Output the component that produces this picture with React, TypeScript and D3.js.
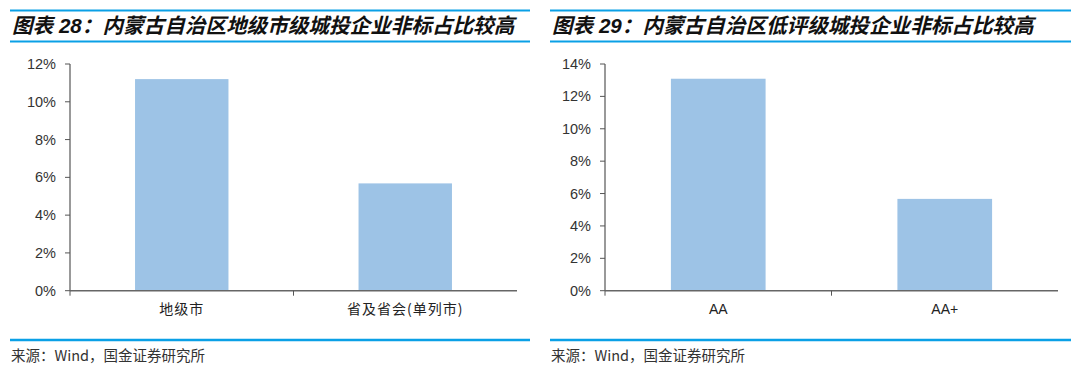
import React from "react";
import * as d3 from "d3";

const leftTitle = "图表 28：内蒙古自治区地级市级城投企业非标占比较高";
const leftCategories = ["地级市", "省及省会(单列市)"];
const leftValues = [0.112, 0.0568];
const leftTicks = [0, 0.02, 0.04, 0.06, 0.08, 0.1, 0.12];

const rightTitle = "图表 29：内蒙古自治区低评级城投企业非标占比较高";
const rightCategories = ["AA", "AA+"];
const rightValues = [0.1309, 0.0567];
const rightTicks = [0, 0.02, 0.04, 0.06, 0.08, 0.1, 0.12, 0.14];

const source = "来源：Wind，国金证券研究所";

const BLUE = "#0aa0e6";
const BAR = "#9dc3e6";

function Panel({ x0, x1, axisX, axisEnd, title, categories, values, ticks, cjkLabels }) {
  const top = 64;
  const bottom = 290.7;
  const y = d3.scaleLinear().domain([0, ticks[ticks.length - 1]]).range([bottom, top]);
  const xb = d3.scaleBand().domain(categories).range([axisX, axisEnd]).paddingInner(0).paddingOuter(0);
  const bw = xb.bandwidth() * 0.418;
  const fmt = d3.format(".0%");
  return (
    <g>
      <line x1={x0} x2={x1} y1={10.5} y2={10.5} stroke={BLUE} strokeWidth={2} />
      <text x={x0 + 2} y={33} fontFamily="'Liberation Sans', 'Noto Sans CJK SC', sans-serif" fontSize={20.6} fontWeight="bold" fontStyle="italic" fill="#111">
        {title}
      </text>
      <line x1={x0} x2={x1} y1={41.5} y2={41.5} stroke={BLUE} strokeWidth={2} />
      {values.map((v, i) => {
        const cx = xb(categories[i]) + xb.bandwidth() / 2;
        return (
          <rect key={i} x={cx - bw / 2} y={y(v)} width={bw} height={bottom - y(v)} fill={BAR} />
        );
      })}
      <line x1={axisX} x2={axisX} y1={top} y2={bottom} stroke="#555" strokeWidth={1.2} />
      {ticks.map((t, i) => (
        <g key={i}>
          <line x1={axisX - 5} x2={axisX} y1={y(t)} y2={y(t)} stroke="#555" strokeWidth={1} />
          <text x={axisX - 14} y={y(t)} dy="0.35em" textAnchor="end" fontFamily="'Liberation Sans', Arial, sans-serif" fontSize={14.5} fill="#333">
            {fmt(t)}
          </text>
        </g>
      ))}
      <line x1={axisX} x2={axisEnd} y1={bottom} y2={bottom} stroke="#666" strokeWidth={1.5} />
      {categories.map((c, i) => (
        <line key={i} x1={xb(c)} x2={xb(c)} y1={bottom} y2={bottom + 5} stroke="#555" strokeWidth={1} />
      ))}
      {categories.map((c, i) => (
        <text key={i} x={xb(c) + xb.bandwidth() / 2} y={314} textAnchor="middle"
          fontFamily={cjkLabels ? "'Noto Sans CJK SC', sans-serif" : "'Liberation Sans', Arial, sans-serif"}
          fontSize={14} letterSpacing={cjkLabels ? 1 : 0} fill="#222">
          {c}
        </text>
      ))}
      <line x1={x0} x2={x1} y1={340} y2={340} stroke={BLUE} strokeWidth={2.5} />
      <text x={x0 + 1} y={361} fontFamily="'Noto Sans CJK SC', sans-serif" fontSize={14.5} fill="#333">
        {source}
      </text>
    </g>
  );
}

export default function App() {
  return (
    <svg width={1080} height={385} style={{ position: "absolute", left: 0, top: 0, background: "#fff" }}>
      <rect width={1080} height={385} fill="#fff" />
      <Panel x0={10} x1={530} axisX={70} axisEnd={517} title={leftTitle} categories={leftCategories} values={leftValues} ticks={leftTicks} cjkLabels={true} />
      <Panel x0={550} x1={1071} axisX={605} axisEnd={1058} title={rightTitle} categories={rightCategories} values={rightValues} ticks={rightTicks} cjkLabels={false} />
    </svg>
  );
}
